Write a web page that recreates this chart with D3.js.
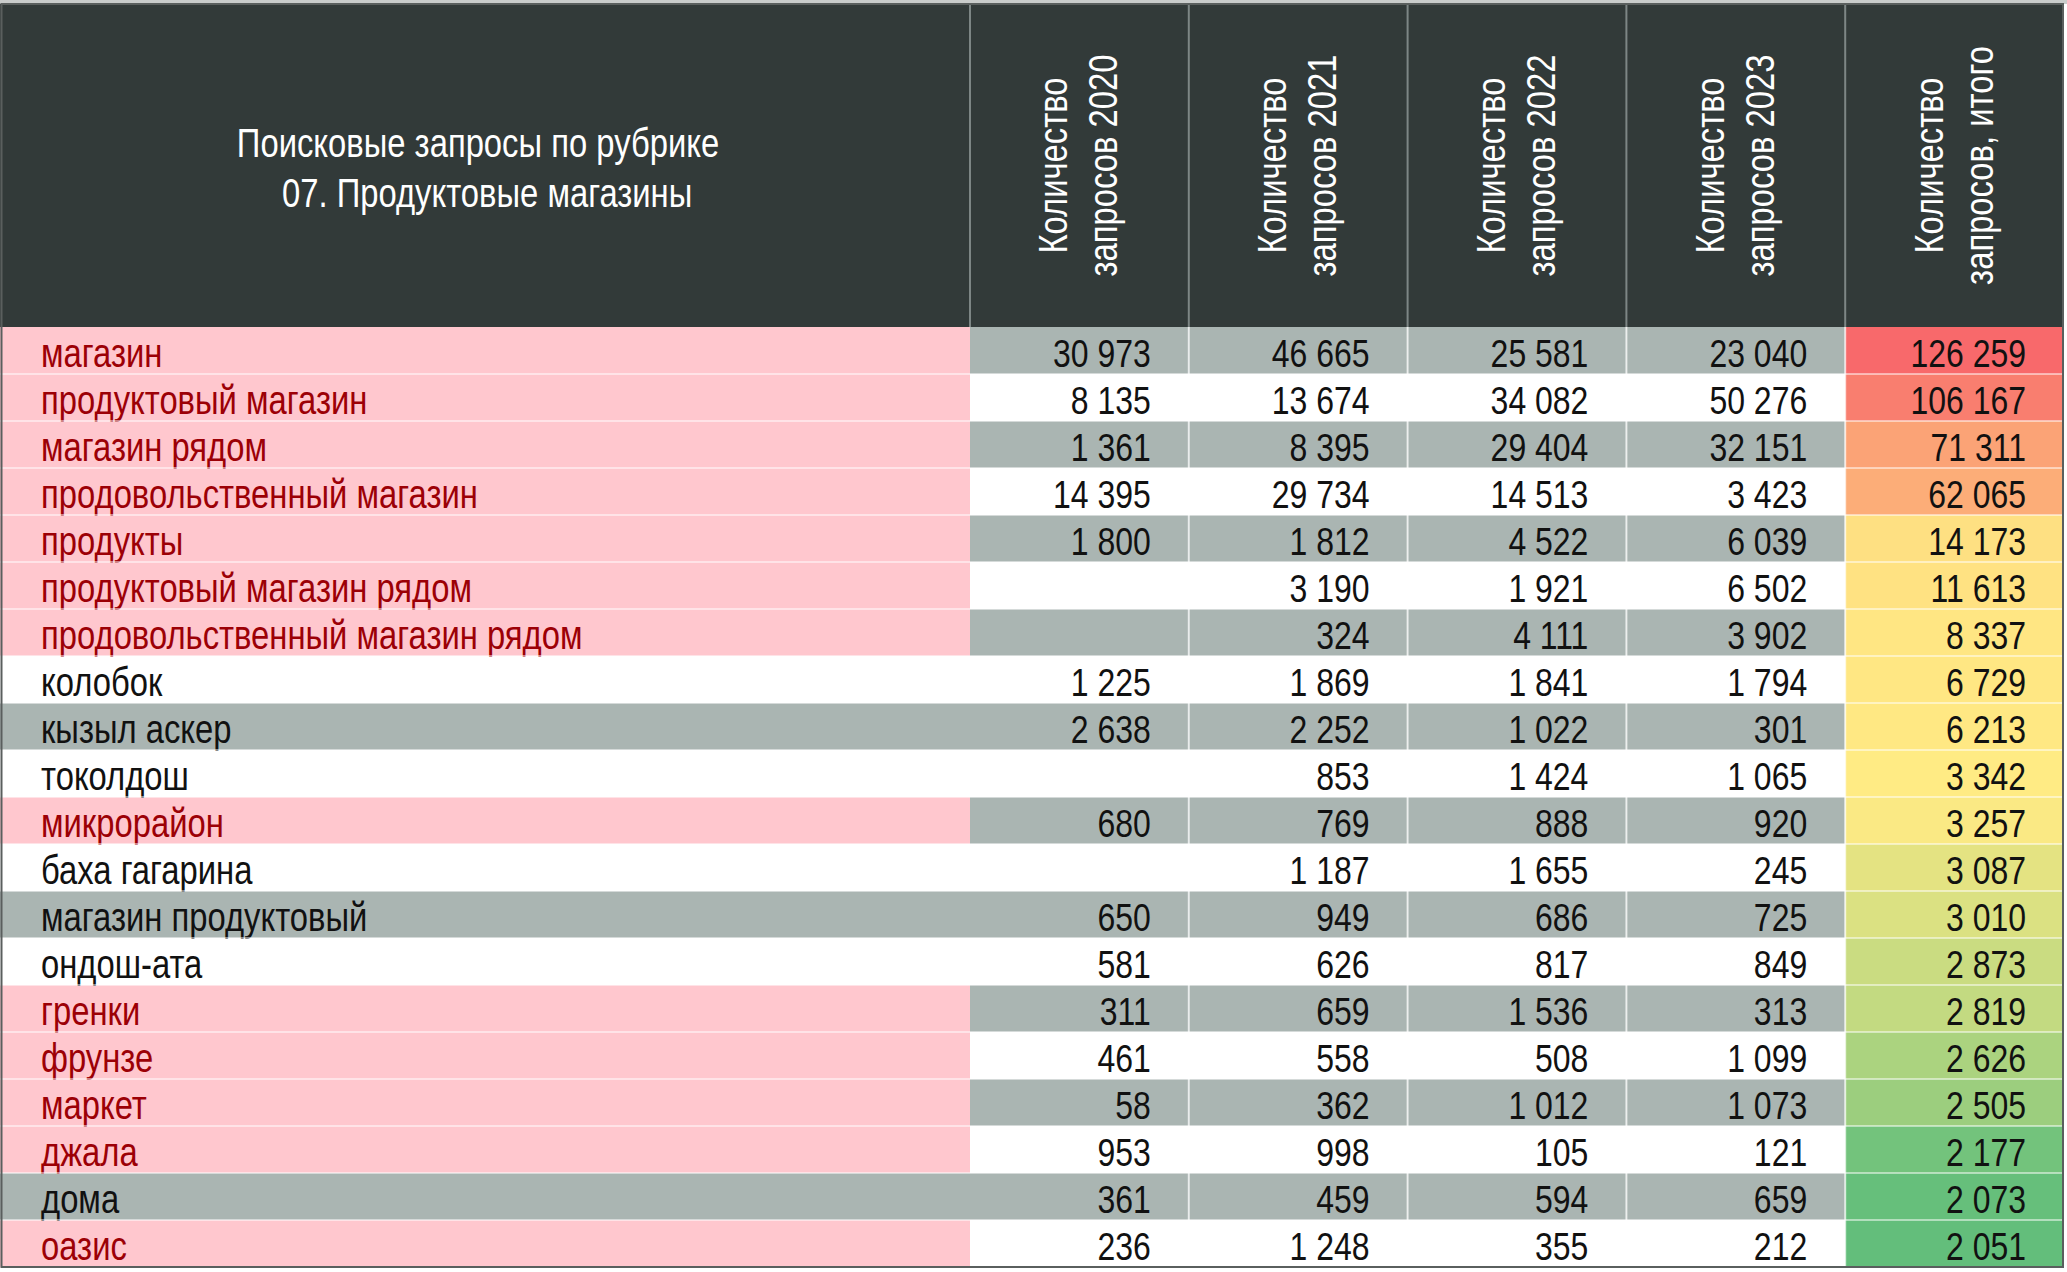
<!DOCTYPE html>
<html>
<head>
<meta charset="utf-8">
<script src="https://cdn.jsdelivr.net/npm/d3@7"></script>
<style>
  body { margin: 0; background: #ffffff; }
  text { font-family: "Liberation Sans", Arial, sans-serif; }
</style>
</head>
<body>
<script>
// search queries, rubric 07
var title = ["Поисковые запросы по рубрике", "  07. Продуктовые магазины"];
var colTitles = [
  ["Количество", "запросов 2020"],
  ["Количество", "запросов 2021"],
  ["Количество", "запросов 2022"],
  ["Количество", "запросов 2023"],
  ["Количество", "запросов, итого"]
];
var queries = ["магазин", "продуктовый магазин", "магазин рядом", "продовольственный магазин",
  "продукты", "продуктовый магазин рядом", "продовольственный магазин рядом", "колобок",
  "кызыл аскер", "токолдош", "микрорайон", "баха гагарина", "магазин продуктовый",
  "ондош-ата", "гренки", "фрунзе", "маркет", "джала", "дома", "оазис"];
var highlighted = [1, 1, 1, 1, 1, 1, 1, 0, 0, 0, 1, 0, 0, 0, 1, 1, 1, 1, 0, 1];
var y2020 = [30973, 8135, 1361, 14395, 1800, null, null, 1225, 2638, null, 680, null, 650, 581, 311, 461, 58, 953, 361, 236];
var y2021 = [46665, 13674, 8395, 29734, 1812, 3190, 324, 1869, 2252, 853, 769, 1187, 949, 626, 659, 558, 362, 998, 459, 1248];
var y2022 = [25581, 34082, 29404, 14513, 4522, 1921, 4111, 1841, 1022, 1424, 888, 1655, 686, 817, 1536, 508, 1012, 105, 594, 355];
var y2023 = [23040, 50276, 32151, 3423, 6039, 6502, 3902, 1794, 301, 1065, 920, 245, 725, 849, 313, 1099, 1073, 121, 659, 212];
var totals = [126259, 106167, 71311, 62065, 14173, 11613, 8337, 6729, 6213, 3342, 3257, 3087, 3010, 2873, 2819, 2626, 2505, 2177, 2073, 2051];

var width = 2067, height = 1272;
var headerTop = 4, headerBottom = 327, tableBottom = 1267;
var labelRight = 970, tableRight = 2064;
var squeeze = 0.82; // narrow font look

var svg = d3.select("body").append("svg")
    .attr("width", width)
    .attr("height", height);

var series = [y2020, y2021, y2022, y2023, totals];

var x = d3.scaleBand()
    .domain(d3.range(series.length))
    .range([labelRight, tableRight]);

var y = d3.scaleBand()
    .domain(d3.range(queries.length))
    .range([headerBottom, tableBottom]);

var fmt = d3.formatLocale({decimal: ",", thousands: " ", grouping: [3], currency: ["", ""]}).format(",d");

var heat = d3.scaleLinear()
    .domain([d3.min(totals), d3.median(totals), d3.max(totals)])
    .range(["#63be7b", "#ffeb84", "#f8696b"]);

// top strip
svg.append("rect")
    .attr("x", 0).attr("y", 0)
    .attr("width", width).attr("height", headerTop)
    .attr("fill", "#c9cccb");

// header
svg.append("rect")
    .attr("x", 0).attr("y", headerTop)
    .attr("width", tableRight).attr("height", headerBottom - headerTop)
    .attr("fill", "#323a39");

svg.selectAll(".title")
    .data(title)
    .enter().append("text")
    .attr("transform", function (d, i) {
        return "translate(478," + (157 + i * 50) + ") scale(" + squeeze + ",1)";
    })
    .attr("text-anchor", "middle")
    .attr("font-size", 40)
    .attr("fill", "#ffffff")
    .style("white-space", "pre")
    .text(function (d) { return d; });

var heads = svg.selectAll(".head")
    .data(colTitles)
    .enter().append("g")
    .attr("class", "head");

heads.selectAll("text")
    .data(function (d, i) {
        return d.map(function (t, j) { return {t: t, col: i, line: j}; });
    })
    .enter().append("text")
    .attr("transform", function (d) {
        var cx = x(d.col) + x.bandwidth() / 2 - 12 + d.line * 50;
        return "translate(" + cx + "," + ((headerTop + headerBottom) / 2) + ") rotate(-90) scale(" + squeeze + ",1)";
    })
    .attr("text-anchor", "middle")
    .attr("font-size", 40)
    .attr("fill", "#ffffff")
    .text(function (d) { return d.t; });

// header column separators
svg.selectAll(".hsep")
    .data(d3.range(series.length))
    .enter().append("line")
    .attr("x1", function (d) { return x(d); })
    .attr("x2", function (d) { return x(d); })
    .attr("y1", headerTop)
    .attr("y2", headerBottom)
    .attr("stroke", "#7d8685")
    .attr("stroke-width", 2);

// label column cells
svg.selectAll(".lab")
    .data(queries)
    .enter().append("rect")
    .attr("x", 0)
    .attr("y", function (d, i) { return y(i); })
    .attr("width", labelRight)
    .attr("height", y.bandwidth())
    .attr("fill", function (d, i) {
        if (highlighted[i]) return "#ffc7ce";
        return i % 2 ? "#ffffff" : "#aab5b2";
    });

svg.selectAll(".labtext")
    .data(queries)
    .enter().append("text")
    .attr("transform", function (d, i) {
        return "translate(41," + (y(i) + 40) + ") scale(" + squeeze + ",1)";
    })
    .attr("font-size", 40)
    .attr("fill", function (d, i) { return highlighted[i] ? "#9c0006" : "#111111"; })
    .text(function (d) { return d; });

// value cells
var cells = [];
series.forEach(function (s, c) {
    s.forEach(function (v, r) { cells.push({col: c, row: r, v: v}); });
});

svg.selectAll(".cell")
    .data(cells)
    .enter().append("rect")
    .attr("x", function (d) { return x(d.col); })
    .attr("y", function (d) { return y(d.row); })
    .attr("width", x.bandwidth())
    .attr("height", y.bandwidth())
    .attr("fill", function (d) {
        if (d.col === series.length - 1) return heat(d.v);
        return d.row % 2 ? "#ffffff" : "#aab5b2";
    });

svg.selectAll(".num")
    .data(cells.filter(function (d) { return d.v != null; }))
    .enter().append("text")
    .attr("transform", function (d) {
        return "translate(" + (x(d.col) + x.bandwidth() - 38) + "," + (y(d.row) + 40) + ") scale(" + squeeze + ",1)";
    })
    .attr("text-anchor", "end")
    .attr("font-size", 39)
    .attr("fill", "#111111")
    .text(function (d) { return fmt(d.v); });

// grid lines
svg.selectAll(".rsep")
    .data(d3.range(1, queries.length))
    .enter().append("line")
    .attr("x1", 0)
    .attr("x2", tableRight)
    .attr("y1", function (d) { return y(d); })
    .attr("y2", function (d) { return y(d); })
    .attr("stroke", "#ffffff")
    .attr("stroke-opacity", 0.5)
    .attr("stroke-width", 2);

svg.selectAll(".csep")
    .data(d3.range(1, series.length))
    .enter().append("line")
    .attr("x1", function (d) { return x(d); })
    .attr("x2", function (d) { return x(d); })
    .attr("y1", headerBottom)
    .attr("y2", tableBottom)
    .attr("stroke", "#ffffff")
    .attr("stroke-opacity", 0.7)
    .attr("stroke-width", 2);

// outer frame
svg.append("rect")
    .attr("x", 1.5).attr("y", headerTop)
    .attr("width", tableRight - 2.5).attr("height", tableBottom - headerTop)
    .attr("fill", "none")
    .attr("stroke", "#5a5f5e")
    .attr("stroke-width", 2);
</script>
</body>
</html>
